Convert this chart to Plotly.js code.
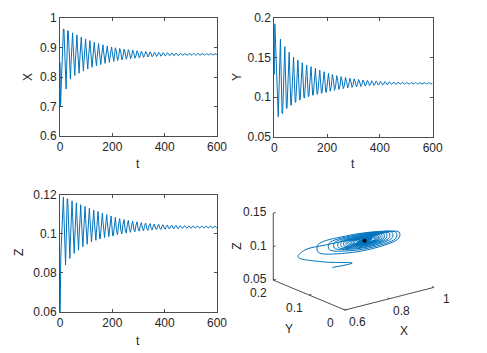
<!DOCTYPE html>
<html>
<head>
<meta charset="utf-8">
<script src="https://cdn.plot.ly/plotly-3.0.1.min.js"></script>
<style>
html,body{margin:0;padding:0;background:#fff;}
#chart{width:487px;height:353px;}
</style>
</head>
<body>
<div id="chart"></div>
<script>
// time samples
const t = [0, 0.6, 1.2, 2, 3, 5, 8,
12.96,15.03,17.10,19.17,21.24,23.31,25.38,27.45,29.52,31.59,33.66,35.73,37.80,39.87,41.94,44.01,
46.08,48.15,50.22,52.29,54.36,56.43,58.50,60.57,62.64,64.71,66.78,68.85,70.92,72.99,75.06,77.13,
79.20,81.27,83.34,85.41,87.48,89.55,91.62,93.69,95.76,97.83,99.90,101.97,104.04,106.11,108.18,110.25,
112.32,114.39,116.46,118.53,120.60,122.67,124.74,126.81,128.88,130.95,133.02,135.09,137.16,139.23,141.30,143.37,
145.44,147.51,149.58,151.65,153.72,155.79,157.86,159.93,162.00,164.07,166.14,168.21,170.28,172.35,174.42,176.49,
178.56,180.63,182.70,184.77,186.84,188.91,190.98,193.05,195.12,197.19,199.26,201.33,203.40,205.47,207.54,209.61,
211.68,215.82,219.96,224.10,228.24,232.38,236.52,240.66,244.80,248.94,253.08,257.22,261.36,265.50,269.64,273.78,
277.92,282.06,286.20,290.34,294.48,298.62,302.76,306.90,311.04,315.18,319.32,323.46,327.60,331.74,335.88,340.02,
344.16,348.30,352.44,356.58,360.72,364.86,369.00,373.14,377.28,381.42,385.56,389.70,393.84,397.98,402.12,406.26,
410.40,414.54,418.68,422.82,426.96,431.10,435.24,439.38,443.52,447.66,451.80,455.94,460.08,464.22,468.36,472.50,
476.64,480.78,484.92,489.06,493.20,497.34,501.48,505.62,509.76,513.90,518.04,522.18,526.32,530.46,534.60,538.74,
542.88,547.02,551.16,555.30,559.44,563.58,567.72,571.86,576.00,580.14,584.28,588.42,592.56,596.70,600];

const X = [0.85, 0.84, 0.76, 0.70, 0.72, 0.78, 0.87,
.9635,.9635,.9131,.8286,.7595,.7595,.8286,.9106, .9575,.9575,.9106,.8427,.7935,.7935,.8427,.9077,
.9505,.9505,.9077,.8477,.8055,.8055,.8477,.9048, .9435,.9435,.9048,.8510,.8135,.8135,.8510,.9019,
.9365,.9365,.9019,.8539,.8205,.8205,.8539,.8992, .9300,.9300,.8992,.8568,.8275,.8275,.8568,.8968,
.9240,.9240,.8968,.8593,.8335,.8335,.8593,.8945, .9185,.9185,.8945,.8614,.8385,.8385,.8614,.8926,
.9140,.9140,.8926,.8631,.8428,.8428,.8631,.8909, .9098,.9098,.8909,.8648,.8468,.8468,.8648,.8893,
.9061,.9061,.8893,.8662,.8503,.8503,.8662,.8880, .9028,.9028,.8880,.8676,.8535,.8535,.8676,.8868,
.8999,.8858,.8562,.8697, .8974,.8849,.8586,.8705, .8951,.8840,.8608,.8714, .8931,.8833,.8627,.8721,
.8913,.8826,.8644,.8728, .8897,.8820,.8659,.8732, .8883,.8815,.8672,.8737, .8871,.8811,.8684,.8742,
.8860,.8807,.8694,.8745, .8850,.8803,.8704,.8749, .8842,.8800,.8711,.8752, .8834,.8797,.8719,.8754,
.8827,.8794,.8726,.8757, .8821,.8792,.8731,.8759, .8816,.8790,.8736,.8761, .8811,.8788,.8741,.8762,
.8807,.8787,.8745,.8764, .8804,.8786,.8747,.8765, .8802,.8785,.8749,.8765, .8800,.8784,.8751,.8766,
.8798,.8784,.8753,.8767, .8796,.8783,.8755,.8768, .8795,.8783,.8756,.8768, .8794,.8782,.8758];

const Y = [0.19, 0.129, 0.155, 0.193, 0.186, 0.167, 0.125,
.0753,.0753,.1001,.1409,.1738,.1738,.1409,.1019, .0796,.0796,.1019,.1368,.1640,.1640,.1368,.1045,
.0860,.0860,.1045,.1339,.1570,.1570,.1339,.1062, .0900,.0900,.1062,.1314,.1510,.1510,.1314,.1077,
.0936,.0936,.1077,.1298,.1470,.1470,.1298,.1089, .0966,.0966,.1089,.1284,.1437,.1437,.1284,.1099,
.0991,.0991,.1099,.1272,.1408,.1408,.1272,.1108, .1011,.1011,.1108,.1263,.1387,.1387,.1263,.1114,
.1026,.1026,.1114,.1255,.1366,.1366,.1255,.1119, .1039,.1039,.1119,.1246,.1345,.1345,.1246,.1124,
.1051,.1051,.1124,.1237,.1323,.1323,.1237,.1129, .1063,.1063,.1129,.1229,.1303,.1303,.1229,.1135,
.1076,.1136,.1287,.1214, .1088,.1141,.1273,.1209, .1099,.1145,.1261,.1205, .1109,.1149,.1250,.1201,
.1118,.1153,.1240,.1198, .1125,.1156,.1232,.1195, .1131,.1158,.1225,.1193, .1137,.1160,.1219,.1191,
.1142,.1163,.1213,.1189, .1146,.1164,.1209,.1187, .1150,.1166,.1205,.1186, .1153,.1167,.1201,.1185,
.1156,.1168,.1198,.1184, .1159,.1169,.1195,.1183, .1161,.1170,.1193,.1182, .1163,.1171,.1191,.1181,
.1164,.1171,.1189,.1181, .1165,.1172,.1188,.1180, .1166,.1172,.1187,.1180, .1167,.1172,.1186,.1180,
.1167,.1173,.1185,.1179, .1168,.1173,.1185,.1179, .1168,.1173,.1184,.1179, .1168,.1173,.1184];

const Z = [0.05, 0.071, 0.0735, 0.0776, 0.088, 0.0945, 0.1067,
.1190,.1099,.0954,.0840,.0840,.0954,.1095,.1180, .1180,.1095,.0968,.0874,.0874,.0968,.1091,.1170,
.1170,.1091,.0979,.0900,.0900,.0979,.1087,.1160, .1160,.1087,.0986,.0917,.0917,.0986,.1083,.1150,
.1150,.1083,.0993,.0934,.0934,.0993,.1079,.1141, .1141,.1079,.0999,.0947,.0947,.0999,.1075,.1132,
.1132,.1075,.1003,.0958,.0958,.1003,.1071,.1123, .1123,.1071,.1007,.0967,.0967,.1007,.1068,.1115,
.1115,.1068,.1010,.0975,.0975,.1010,.1065,.1107, .1107,.1065,.1013,.0981,.0981,.1013,.1061,.1099,
.1099,.1061,.1015,.0986,.0986,.1015,.1059,.1092, .1092,.1059,.1016,.0990,.0990,.1016,.1056,.1085,
.1085,.1018,.0995,.1051, .1079,.1020,.1000,.1049, .1074,.1022,.1004,.1047, .1069,.1023,.1008,.1046,
.1065,.1025,.1011,.1045, .1062,.1026,.1014,.1043, .1058,.1027,.1016,.1043, .1056,.1028,.1018,.1042,
.1053,.1029,.1020,.1041, .1051,.1029,.1022,.1040, .1049,.1030,.1023,.1040, .1047,.1031,.1024,.1039,
.1046,.1031,.1025,.1039, .1045,.1031,.1026,.1038, .1044,.1032,.1027,.1038, .1043,.1032,.1028,.1038,
.1042,.1033,.1029,.1037, .1041,.1033,.1029,.1037, .1041,.1033,.1030,.1037, .1040,.1033,.1030,.1037,
.1040,.1033,.1030,.1037, .1040,.1033,.1030,.1037, .1040,.1033,.1030,.1037, .1040,.1033,.1030];

// equilibrium point
const eqX = [0.8775], eqY = [0.1176], eqZ = [0.1035];

// tick labels
const tTicks = [0, 200, 400, 600];
const xTicks = [0.6, 0.7, 0.8, 0.9, 1];
const yTicks = [0.05, 0.1, 0.15, 0.2];
const zTicks = [0.06, 0.08, 0.1, 0.12];
const x3Ticks = [0.6, 0.8, 1];
const y3Ticks = [0, 0.1, 0.2];
const z3Ticks = [0.05, 0.1, 0.15];

const blue = '#0072BD';
const axCol = '#262626';
const lnCol = '#4d4d4d';
const font = {family: 'Liberation Sans, Arial, sans-serif', size: 12, color: axCol};

// ---- 3-D view (orthographic, MATLAB-like az/el), projected into a flat axes in px units ----
const view = {theta: 38 * Math.PI / 180, el: 19 * Math.PI / 180, Lx: 113, Ly: 116.5, Lz: 70.9};
const rX = [x3Ticks[0], x3Ticks[x3Ticks.length - 1]];
const rY = [y3Ticks[0], y3Ticks[y3Ticks.length - 1]];
const rZ = [z3Ticks[0], z3Ticks[z3Ticks.length - 1]];
function proj(x, y, z) {
  const nx = (x - rX[0]) / (rX[1] - rX[0]);
  const ny = (y - rY[0]) / (rY[1] - rY[0]);
  const nz = (z - rZ[0]) / (rZ[1] - rZ[0]);
  const c = Math.cos(view.theta), s = Math.sin(view.theta);
  const u = nx * view.Lx * c - ny * view.Ly * s;
  const v = (nx * view.Lx * s + ny * view.Ly * c) * Math.sin(view.el) + nz * view.Lz * Math.cos(view.el);
  return [u, v];
}
function projSeries(xs, ys, zs) {
  const u = [], v = [];
  for (let i = 0; i < xs.length; i++) {
    if (xs[i] === null) { u.push(null); v.push(null); continue; }
    const p = proj(xs[i], ys[i], zs[i]); u.push(p[0]); v.push(p[1]);
  }
  return {u: u, v: v};
}
const traj = projSeries(X, Y, Z);
const eqP = projSeries(eqX, eqY, eqZ);

// axis lines: X along y=min,z=min ; Y along x=min,z=min ; Z along x=min,y=max
const axLines = projSeries(
  [rX[0], rX[1], null, rX[0], rX[0], null, rX[0], rX[0]],
  [rY[0], rY[0], null, rY[1], rY[0], null, rY[1], rY[1]],
  [rZ[0], rZ[0], null, rZ[0], rZ[0], null, rZ[0], rZ[1]]);
// tick marks
const tkx = [], tky = [], tkz = [];
const dX = 0.025 * (rX[1] - rX[0]), dY = 0.025 * (rY[1] - rY[0]);
x3Ticks.forEach(v => { tkx.push(v, v, null); tky.push(rY[0], rY[0] + dY, null); tkz.push(rZ[0], rZ[0], null); });
y3Ticks.forEach(v => { tkx.push(rX[0], rX[0] + dX, null); tky.push(v, v, null); tkz.push(rZ[0], rZ[0], null); });
z3Ticks.forEach(v => { tkx.push(rX[0], rX[0] + dX, null); tky.push(rY[1], rY[1], null); tkz.push(v, v, null); });
const tickSeg = projSeries(tkx, tky, tkz);

const ann = [];
function addAnn(p, text, xs, ys, xa, extra) {
  ann.push(Object.assign({xref: 'x4', yref: 'y4', x: p[0], y: p[1], text: text, showarrow: false,
    xshift: xs, yshift: ys, xanchor: xa || 'center', yanchor: 'middle', font: font}, extra || {}));
}
z3Ticks.forEach(v => addAnn(proj(rX[0], rY[1], v), String(v), -4, 1, 'right'));
y3Ticks.forEach(v => addAnn(proj(rX[0], v, rZ[0]), String(v), -15, -13, 'center'));
x3Ticks.forEach(v => addAnn(proj(v, rY[0], rZ[0]), String(v), 12, -12, 'center'));
addAnn(proj(rX[0], (rY[0] + rY[1]) / 2, rZ[0]), 'Y', -20, -34, 'center');
addAnn(proj((rX[0] + rX[1]) / 2, rY[0], rZ[0]), 'X', 14, -32, 'center');
addAnn(proj(rX[0], rY[1], (rZ[0] + rZ[1]) / 2), 'Z', -37, 0, 'center', {textangle: -90});

// 2-D axis titles
function paperAnn(px, py, text, rot) {
  ann.push({xref: 'paper', yref: 'paper', x: px / 487, y: 1 - py / 353, text: text, showarrow: false,
    xanchor: 'center', yanchor: 'middle', textangle: rot || 0, font: font});
}
paperAnn(28, 77, 'X', -90);
paperAnn(237, 77, 'Y', -90);
paperAnn(19, 253, 'Z', -90);
paperAnn(138, 164, 't');
paperAnn(353, 164, 't');
paperAnn(138, 341, 't');

const lineStyle = {color: blue, width: 1};
const traces = [
  {type: 'scatter', mode: 'lines', x: t, y: X, xaxis: 'x', yaxis: 'y', line: lineStyle},
  {type: 'scatter', mode: 'lines', x: t, y: Y, xaxis: 'x2', yaxis: 'y2', line: lineStyle},
  {type: 'scatter', mode: 'lines', x: t, y: Z, xaxis: 'x3', yaxis: 'y3', line: lineStyle},
  {type: 'scatter', mode: 'lines', x: axLines.u, y: axLines.v, xaxis: 'x4', yaxis: 'y4',
   line: {color: lnCol, width: 1}, connectgaps: false},
  {type: 'scatter', mode: 'lines', x: tickSeg.u, y: tickSeg.v, xaxis: 'x4', yaxis: 'y4',
   line: {color: lnCol, width: 1}, connectgaps: false},
  {type: 'scatter', mode: 'lines', x: traj.u, y: traj.v, xaxis: 'x4', yaxis: 'y4',
   line: {color: blue, width: 1, shape: 'spline', smoothing: 1}},
  {type: 'scatter', mode: 'markers', x: eqP.u, y: eqP.v, xaxis: 'x4', yaxis: 'y4',
   marker: {color: '#000', size: 4}}
];

function ax2d(domain, anchor, range, tickvals) {
  return {
    domain: domain, anchor: anchor, range: range, tickvals: tickvals,
    ticks: 'inside', ticklen: 3, tickwidth: 1, tickcolor: lnCol,
    showline: true, linecolor: lnCol, linewidth: 1, mirror: 'allticks',
    showgrid: false, zeroline: false, fixedrange: true,
    tickfont: font, automargin: false
  };
}

const layout = {
  width: 487, height: 353,
  margin: {l: 0, r: 0, t: 0, b: 0},
  paper_bgcolor: '#fff', plot_bgcolor: 'rgba(0,0,0,0)',
  showlegend: false, hovermode: false,
  font: font,
  xaxis: ax2d([0.1232, 0.4456], 'y', [0, 600], tTicks),
  yaxis: ax2d([0.6147, 0.9482], 'x', [0.6, 1], xTicks),
  xaxis2: ax2d([0.5632, 0.8885], 'y2', [0, 600], tTicks),
  yaxis2: ax2d([0.6127, 0.9482], 'x2', [0.05, 0.2], yTicks),
  xaxis3: ax2d([0.1232, 0.4456], 'y3', [0, 600], tTicks),
  yaxis3: ax2d([0.117, 0.4476], 'x3', [0.06, 0.12], zTicks),
  // flat panel for the projected 3-D view: 1 unit = 1 px
  xaxis4: {domain: [250 / 487, 1], anchor: 'y4', range: [250 - 345, 487 - 345], visible: false, fixedrange: true},
  yaxis4: {domain: [0, 170 / 353], anchor: 'x4', range: [-(353 - 310), 310 - 183], visible: false, fixedrange: true},
  annotations: ann
};

Plotly.newPlot('chart', traces, layout, {displayModeBar: false, staticPlot: true});
</script>
</body>
</html>
